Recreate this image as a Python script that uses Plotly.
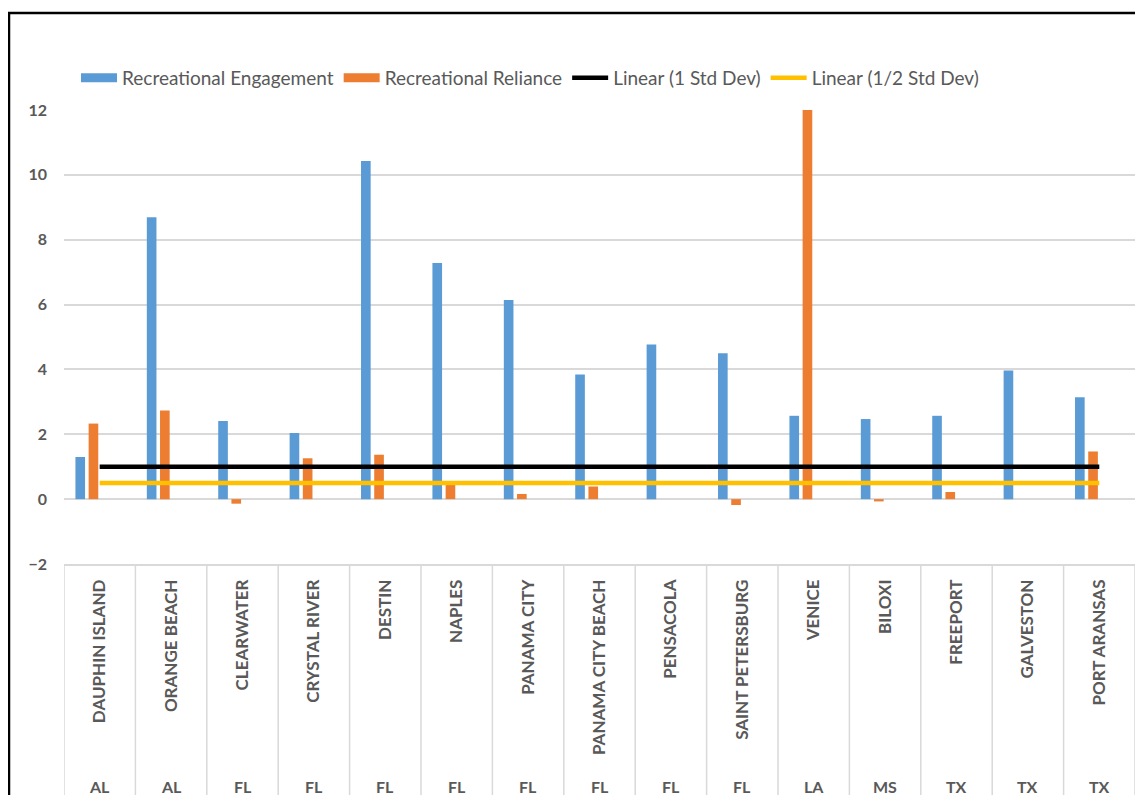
import plotly.graph_objects as go

cities = ["DAUPHIN ISLAND", "ORANGE BEACH", "CLEARWATER", "CRYSTAL RIVER", "DESTIN",
          "NAPLES", "PANAMA CITY", "PANAMA CITY BEACH", "PENSACOLA", "SAINT PETERSBURG",
          "VENICE", "BILOXI", "FREEPORT", "GALVESTON", "PORT ARANSAS"]
states = ["AL", "AL", "FL", "FL", "FL", "FL", "FL", "FL", "FL", "FL", "LA", "MS", "TX", "TX", "TX"]
engagement = [1.30, 8.69, 2.41, 2.04, 10.43, 7.28, 6.14, 3.84, 4.77, 4.50, 2.57, 2.47, 2.57, 3.97, 3.14]
reliance = [2.33, 2.73, -0.14, 1.26, 1.37, 0.50, 0.16, 0.39, 0.0, -0.18, 12.0, -0.07, 0.22, 0.0, 1.47]
one_std = [1.0, 1.0, 1.0, 1.0, 1.0, 1.0, 1.0, 1.0, 1.0, 1.0, 1.0, 1.0, 1.0, 1.0, 1.0]
half_std = [0.5, 0.5, 0.5, 0.5, 0.5, 0.5, 0.5, 0.5, 0.5, 0.5, 0.5, 0.5, 0.5, 0.5, 0.5]
y_ticks = [-2, 0, 2, 4, 6, 8, 10, 12]

BLUE = "#5B9BD5"
ORANGE = "#ED7D31"
YELLOW = "#FFC000"
GREY = "#595959"
GRID = "#D9D9D9"
FONT = "Lato"

# page offset (browser body margin) compensation
OFF = 8
W, H = 1143 - OFF, 795 - OFF
L, T, R, B = 64 - OFF, 110 - OFF, 8, 231
PW = W - L - R
PH = H - T - B


def px_x(sx):
    return (sx - OFF - L) / PW


def px_y(sy):
    return (H - B - (sy - OFF)) / PH


fig = go.Figure()
fig.add_trace(go.Bar(x=cities, y=engagement, name="Recreational Engagement",
                     marker=dict(color=BLUE, line=dict(width=0)),
                     width=0.135, offset=-0.34, showlegend=False))
fig.add_trace(go.Bar(x=cities, y=reliance, name="Recreational Reliance",
                     marker=dict(color=ORANGE, line=dict(width=0)),
                     width=0.135, offset=-0.155, showlegend=False))
fig.add_trace(go.Scatter(x=cities, y=one_std, mode="lines", name="Linear (1 Std Dev)",
                         line=dict(color="#000000", width=4.5), showlegend=False))
fig.add_trace(go.Scatter(x=cities, y=half_std, mode="lines", name="Linear (1/2 Std Dev)",
                         line=dict(color=YELLOW, width=4.5), showlegend=False))

# legend entries
for nm, col, w in [("Recreational Engagement", BLUE, 9), ("Recreational Reliance", ORANGE, 9),
                   ("Linear (1 Std Dev)", "#000000", 4.5), ("Linear (1/2 Std Dev)", YELLOW, 4.5)]:
    fig.add_trace(go.Scatter(x=[None], y=[None], mode="lines", name=nm,
                             line=dict(color=col, width=w), showlegend=True))

shapes = []
for i in range(len(cities) + 1):
    shapes.append(dict(type="line", xref="x", yref="paper", x0=i - 0.5, x1=i - 0.5,
                       y0=0, y1=-0.7, line=dict(color=GRID, width=1.5), layer="below"))
# outer black frame
shapes.append(dict(type="rect", xref="paper", yref="paper",
                   x0=px_x(9), x1=1.2, y0=-1.0, y1=px_y(13),
                   line=dict(color="#000000", width=2.5), fillcolor="rgba(0,0,0,0)"))

annotations = []
for c, s in zip(cities, states):
    annotations.append(dict(x=c, xref="x", y=px_y(786), yref="paper", text=s,
                            showarrow=False, yanchor="middle",
                            font=dict(family=FONT, size=16, color=GREY, weight="bold")))

fig.update_layout(
    width=W, height=H,
    margin=dict(l=L, r=R, t=T, b=B),
    paper_bgcolor="white", plot_bgcolor="white",
    barmode="overlay",
    font=dict(family=FONT, color=GREY),
    shapes=shapes, annotations=annotations,
    legend=dict(orientation="h", x=px_x(76), xanchor="left",
                y=px_y(78), yanchor="middle",
                font=dict(family=FONT, size=19, color=GREY),
                itemwidth=36, tracegroupgap=0, bgcolor="rgba(0,0,0,0)"),
    xaxis=dict(type="category", tickangle=-90, showgrid=False, zeroline=False,
               showline=True, linecolor=GRID, linewidth=1.5, ticks="",
               ticklabelstandoff=7, range=[-0.5, 14.5],
               tickfont=dict(family=FONT, size=17, color=GREY, weight="bold")),
    yaxis=dict(range=[-2, 12], tickvals=y_ticks, showgrid=True, gridcolor=GRID, gridwidth=1.5,
               zeroline=False, showline=False, ticks="", ticklabelstandoff=16,
               tickfont=dict(family=FONT, size=16, color=GREY, weight="bold")),
)

fig.write_html("out.html")
